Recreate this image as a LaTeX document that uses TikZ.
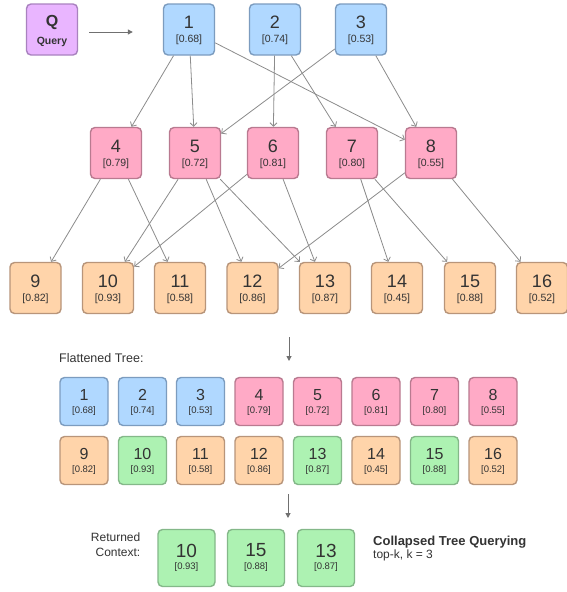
\documentclass[tikz,border=0pt]{standalone}
\usepackage{fontspec}
\setmainfont{Liberation Sans}
\usetikzlibrary{arrows.meta}
\definecolor{txt}{HTML}{333333}
\definecolor{edgec}{HTML}{8C8C8C}
\definecolor{bluef}{HTML}{B0D8FF}
\definecolor{blued}{HTML}{7C9CBF}
\definecolor{pinkf}{HTML}{FFAAC6}
\definecolor{pinkd}{HTML}{B97A90}
\definecolor{orf}{HTML}{FFD4AA}
\definecolor{ord}{HTML}{B8957A}
\definecolor{grf}{HTML}{ADF2B2}
\definecolor{grd}{HTML}{84B889}
\definecolor{puf}{HTML}{E9B5FF}
\definecolor{pud}{HTML}{A982BF}
\newcommand\tbox[6]{%
  \node[#4] (#1) at (#2,#3) {};
  \node[numtxt] (#1n) at (#1.center) {#5};
  \node[scoretxt] (#1s) at (#1.center) {#6};
}
\begin{document}
\begin{tikzpicture}[x=1pt,y=-1pt,
  box/.style={draw, rounded corners=4.5pt, line width=1.4pt, inner sep=0pt, minimum width=51pt, minimum height=51pt},
  fbox/.style={box, minimum width=48pt, minimum height=48pt},
  rbox/.style={box, minimum width=57pt, minimum height=57pt},
  blue/.style={fill=bluef, draw=blued},
  pink/.style={fill=pinkf, draw=pinkd},
  orng/.style={fill=orf, draw=ord},
  grn/.style={fill=grf, draw=grd},
  purp/.style={fill=puf, draw=pud},
  edge/.style={draw=edgec, line width=0.8pt, -{Straight Barb[length=3.5pt,width=7pt]}},
  arr2/.style={draw=edgec!80!black, line width=1pt, -{Triangle[length=5pt,width=5pt]}},
  lbl/.style={text=txt, inner sep=0pt},
  numtxt/.style={lbl, font=\fontsize{18}{18}\selectfont, yshift=7pt},
  scoretxt/.style={lbl, font=\fontsize{10.5}{11}\selectfont, yshift=-10.5pt}
]
\useasboundingbox (0,0) rectangle (566,592);
\fill[white] (0,0) rectangle (566,592);

% Query
\node[box,purp] (Q) at (52,29.5) {};
\node[lbl, font=\fontsize{16}{16}\selectfont\bfseries, yshift=7pt] (Qn) at (Q.center) {Q};
\node[lbl, font=\fontsize{10.5}{11}\selectfont\bfseries, yshift=-12.5pt] (Qs) at (Q.center) {Query};

% Tree top
\tbox{n1}{189}{29.5}{box,blue}{1}{[0.68]}
\tbox{n2}{275}{29.5}{box,blue}{2}{[0.74]}
\tbox{n3}{361}{29.5}{box,blue}{3}{[0.53]}
% Tree middle
\tbox{n4}{116}{153}{box,pink}{4}{[0.79]}
\tbox{n5}{195}{153}{box,pink}{5}{[0.72]}
\tbox{n6}{273}{153}{box,pink}{6}{[0.81]}
\tbox{n7}{352}{153}{box,pink}{7}{[0.80]}
\tbox{n8}{431}{153}{box,pink}{8}{[0.55]}
% Tree bottom
\tbox{n9}{35.5}{288}{box,orng}{9}{[0.82]}
\tbox{n10}{108}{288}{box,orng}{10}{[0.93]}
\tbox{n11}{180}{288}{box,orng}{11}{[0.58]}
\tbox{n12}{252.5}{288}{box,orng}{12}{[0.86]}
\tbox{n13}{325}{288}{box,orng}{13}{[0.87]}
\tbox{n14}{397}{288}{box,orng}{14}{[0.45]}
\tbox{n15}{470}{288}{box,orng}{15}{[0.88]}
\tbox{n16}{542}{288}{box,orng}{16}{[0.52]}

% Tree edges
\draw[arr2] ([xshift=11pt,yshift=-2.5pt]Q.east) -- ([xshift=-30pt,yshift=-2.5pt]n1.west);
\foreach \a/\b in {n1/n4,n1/n5,n1/n8,n2/n6,n2/n7,n3/n5,n3/n8,
  n4/n9,n4/n11,n5/n10,n5/n12,n5/n13,n6/n10,n6/n13,n7/n14,n7/n15,n8/n12,n8/n16}
  \draw[edge] (\a) -- (\b);

% Flattened
\coordinate (a1) at (289,337);
\coordinate (a2) at (289,361);
\draw[arr2] (a1) -- (a2);
\node[lbl, font=\fontsize{12.5}{13}\selectfont, anchor=base west] (ft) at (59,362) {Flattened Tree:};

\begin{scope}[numtxt/.style={lbl, font=\fontsize{16}{16}\selectfont, yshift=6.5pt},
  scoretxt/.style={lbl, font=\fontsize{9.5}{10}\selectfont, yshift=-9.5pt}]
\tbox{f1}{84}{401.5}{fbox,blue}{1}{[0.68]}
\tbox{f2}{142.5}{401.5}{fbox,blue}{2}{[0.74]}
\tbox{f3}{200.5}{401.5}{fbox,blue}{3}{[0.53]}
\tbox{f4}{259}{401.5}{fbox,pink}{4}{[0.79]}
\tbox{f5}{317.5}{401.5}{fbox,pink}{5}{[0.72]}
\tbox{f6}{376}{401.5}{fbox,pink}{6}{[0.81]}
\tbox{f7}{434.5}{401.5}{fbox,pink}{7}{[0.80]}
\tbox{f8}{493}{401.5}{fbox,pink}{8}{[0.55]}
\tbox{f9}{84}{460.5}{fbox,orng}{9}{[0.82]}
\tbox{f10}{142.5}{460.5}{fbox,grn}{10}{[0.93]}
\tbox{f11}{200.5}{460.5}{fbox,orng}{11}{[0.58]}
\tbox{f12}{259}{460.5}{fbox,orng}{12}{[0.86]}
\tbox{f13}{317.5}{460.5}{fbox,grn}{13}{[0.87]}
\tbox{f14}{376}{460.5}{fbox,orng}{14}{[0.45]}
\tbox{f15}{434.5}{460.5}{fbox,grn}{15}{[0.88]}
\tbox{f16}{493}{460.5}{fbox,orng}{16}{[0.52]}
\end{scope}

% Returned
\coordinate (b1) at (288,494);
\coordinate (b2) at (288,518);
\draw[arr2] (b1) -- (b2);
\node[lbl, font=\fontsize{12}{15}\selectfont, align=right, anchor=north east] (rc) at (140.5,532.5) {Returned\\Context:};
\begin{scope}[numtxt/.style={lbl, font=\fontsize{19}{19}\selectfont, yshift=7.5pt},
  scoretxt/.style={lbl, font=\fontsize{9.5}{10}\selectfont, yshift=-9.5pt}]
\tbox{r10}{186.5}{558}{rbox,grn}{10}{[0.93]}
\tbox{r15}{256}{558}{rbox,grn}{15}{[0.88]}
\tbox{r13}{326}{558}{rbox,grn}{13}{[0.87]}
\end{scope}
\node[lbl, font=\fontsize{13}{14}\selectfont\bfseries, anchor=base west] (ct) at (373,545) {Collapsed Tree Querying};
\node[lbl, font=\fontsize{12}{13}\selectfont, anchor=base west] (tk) at (373,558) {top-k, k = 3};
\end{tikzpicture}
\end{document}
